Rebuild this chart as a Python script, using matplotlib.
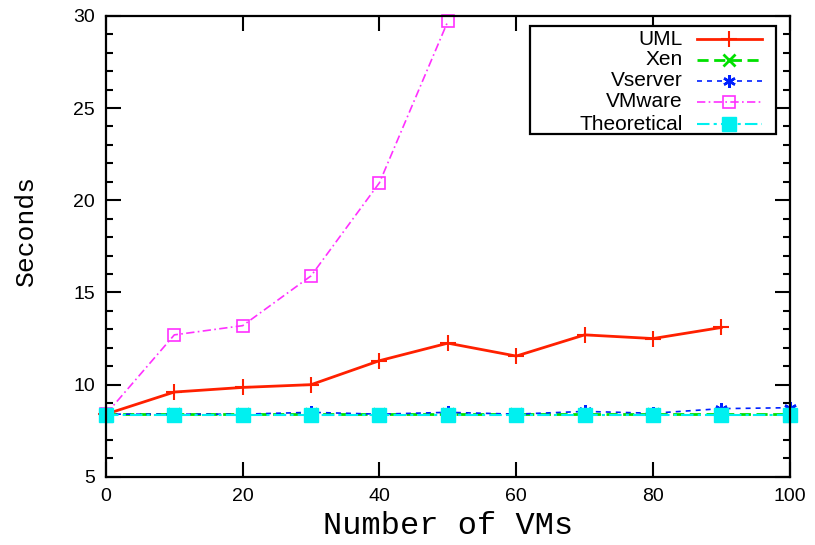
import matplotlib.pyplot as plt
from matplotlib.lines import Line2D

vms = [0, 10, 20, 30, 40, 50, 60, 70, 80, 90, 100]

uml_x = [0, 10, 20, 30, 40, 50, 60, 70, 80, 90]
uml = [8.4, 9.6, 9.85, 10.0, 11.3, 12.25, 11.55, 12.7, 12.5, 13.1]

xen = [8.4, 8.4, 8.4, 8.4, 8.4, 8.4, 8.4, 8.4, 8.4, 8.4, 8.4]

vserver = [8.4, 8.4, 8.4, 8.5, 8.4, 8.5, 8.4, 8.55, 8.45, 8.7, 8.75]

vmware_x = [0, 10, 20, 30, 40, 50]
vmware = [8.4, 12.7, 13.2, 15.9, 20.95, 29.7]

theoretical = [8.35] * 11

labels = ["UML", "Xen", "Vserver", "VMware", "Theoretical"]

fig = plt.figure(figsize=(8.15, 5.45), dpi=100)
ax = fig.add_axes([0.130, 0.125, 0.839, 0.846])

styles = [
    dict(color="#ff2000", lw=2.0, ls="-", marker="+", ms=11, mew=1.5),
    dict(color="#00e000", lw=2.0, ls=(0, (4, 2)), marker="x", ms=8, mew=2),
    dict(color="#0020ff", lw=1.2, ls=(0, (3, 3)), marker=(6, 2, 0), ms=9,
         mew=1.8),
    dict(color="#ff30ff", lw=1.2, ls=(0, (5, 2, 1, 2)), marker="s", ms=8,
         mfc="none", mew=1.2),
    dict(color="#00f0f0", lw=1.5, ls=(0, (6, 2, 1.5, 2)), marker="s", ms=10),
]

series = [(uml_x, uml), (vms, xen), (vms, vserver), (vmware_x, vmware),
          (vms, theoretical)]

for (xs, ys), st in zip(series, styles):
    ax.plot(xs, ys, clip_on=False, **st)

ax.set_xlim(0, 100)
ax.set_ylim(5, 30)
ax.set_xticks(range(0, 101, 20))
ax.set_yticks(range(5, 31, 5))
ax.set_yticks(range(5, 31, 1), minor=True)
ax.tick_params(which="both", direction="in", top=True, right=True,
               labelsize=14, width=1.5, pad=8)
ax.tick_params(which="major", length=11)
ax.tick_params(which="minor", length=5)
for t in ax.get_xticklabels() + ax.get_yticklabels():
    t.set_family("Liberation Sans")
for s in ax.spines.values():
    s.set_linewidth(1.6)

ax.set_xlabel("Number of VMs", family="Liberation Mono", fontsize=23,
              labelpad=4)
ax.set_ylabel("Seconds", family="Liberation Mono", fontsize=19)
ax.yaxis.set_label_coords(-0.100, 0.535)

# gnuplot-style key: right aligned text, sample to the right
W, H = 815, 545
def ax_pt(px, py):
    return ax.transAxes.inverted().transform(
        fig.transFigure.transform((px / W, 1 - py / H)))

x0, y0 = ax_pt(530, 134)
x1, y1 = ax_pt(776, 26)
ax.add_patch(plt.Rectangle((x0, y0), x1 - x0, y1 - y0, transform=ax.transAxes,
                           fill=True, fc="white", ec="black", lw=1.6,
                           zorder=5, clip_on=False))
rows = [39, 60, 81, 102, 124]
for lab, st, py in zip(labels, styles, rows):
    tx, ty = ax_pt(683, py)
    ax.text(tx, ty, lab, transform=ax.transAxes, ha="right", va="center",
            family="Liberation Sans", fontsize=15, zorder=6)
    lx0, ly = ax_pt(697, py)
    lx1, _ = ax_pt(762, py)
    mx, _ = ax_pt(729, py)
    ln = {k: v for k, v in st.items() if k not in ("marker", "ms", "mew", "mfc")}
    ax.add_line(Line2D([lx0, lx1], [ly, ly], transform=ax.transAxes,
                       zorder=6, clip_on=False, **ln))
    mk = {k: v for k, v in st.items() if k not in ("lw", "ls")}
    ax.add_line(Line2D([mx], [ly], transform=ax.transAxes, ls="none",
                       zorder=7, clip_on=False, **mk))

fig.savefig("out.png", dpi=100)
